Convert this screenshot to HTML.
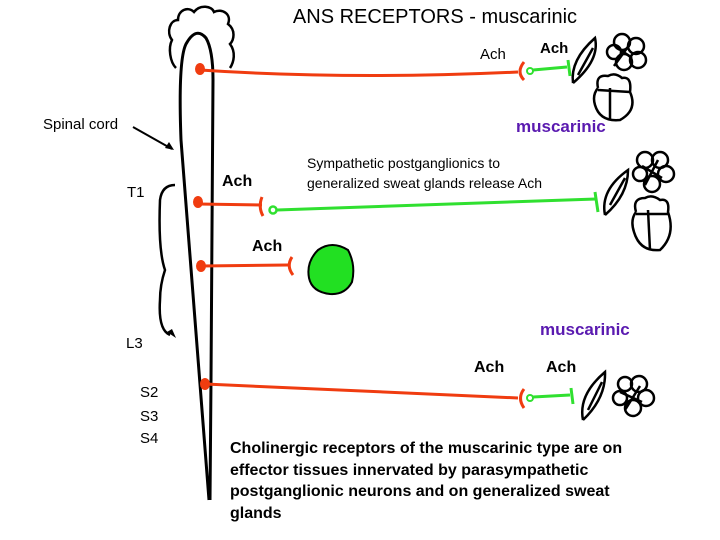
<!DOCTYPE html>
<html><head><meta charset="utf-8"><style>
html,body{margin:0;padding:0;background:#fff;}
svg{display:block;}
text{font-family:"Liberation Sans",Arial,sans-serif;}
</style></head><body>
<svg width="720" height="540" viewBox="0 0 720 540" xmlns="http://www.w3.org/2000/svg">
<rect width="720" height="540" fill="#fff"/>
<text x="435" y="23" font-size="20" text-anchor="middle">ANS RECEPTORS - muscarinic</text>

<path d="M176,68 C170,62 168,48 172,40 C166,32 170,20 178,20 C178,10 188,6 194,12 C200,4 212,6 214,12 C222,8 232,14 228,24 C236,30 234,40 230,44 C236,52 234,62 230,68" fill="none" stroke="#000" stroke-width="2.5"/>
<path d="M209,500 L181,140 Q178,60 186,44 Q196,26 206,38 Q213,50 213,80 L211,380 L210,500" fill="none" stroke="#000" stroke-width="3" stroke-linejoin="round"/>

<text x="43" y="129" font-size="15">Spinal cord</text>
<line x1="133" y1="127" x2="172" y2="149" stroke="#000" stroke-width="2"/>
<polygon points="174,150 165,148 169,142" fill="#000"/>

<path d="M175,185 Q162,185 160,200 Q158,250 165,270 Q160,285 160,300 Q158,330 170,335" fill="none" stroke="#000" stroke-width="2.5"/>
<polygon points="176,338 167,332 172,329" fill="#000"/>

<text x="127" y="197" font-size="15">T1</text>
<text x="126" y="348" font-size="15">L3</text>
<text x="140" y="397" font-size="15">S2</text>
<text x="140" y="421" font-size="15">S3</text>
<text x="140" y="443" font-size="15">S4</text>

<ellipse cx="200" cy="69" rx="5" ry="6" fill="#f03c10"/>
<path d="M200,70 Q350,80 518,72" fill="none" stroke="#f03c10" stroke-width="3"/>
<path d="M524,62 Q516,72 524,80" fill="none" stroke="#f03c10" stroke-width="3"/>
<circle cx="530" cy="71" r="3" fill="none" stroke="#30e030" stroke-width="2"/>
<line x1="533" y1="70" x2="567" y2="67" stroke="#30e030" stroke-width="3"/>
<line x1="568" y1="60" x2="570" y2="76" stroke="#30e030" stroke-width="3"/>
<text x="480" y="59" font-size="15">Ach</text>
<text x="540" y="53" font-size="15" font-weight="bold">Ach</text>

<g fill="none" stroke="#000" stroke-width="2.5">
<path d="M573,83 Q570,60 595,38 Q600,60 573,83 M578,75 L593,48"/>
<circle cx="622" cy="42" r="8"/><circle cx="636" cy="46" r="8"/><circle cx="638" cy="60" r="8"/><circle cx="624" cy="62" r="8"/><circle cx="614" cy="52" r="7"/>
<path d="M618,48 L632,58 M614,66 L630,44"/>
<path d="M598,88 Q595,74 608,76 Q615,72 622,78 Q632,76 630,92 Q638,110 620,120 Q600,122 595,105 Q592,95 598,88 M610,88 L610,120 M598,90 L630,92"/>
<path d="M605,215 Q600,190 628,170 Q628,195 605,215 M610,205 L625,178"/>
<circle cx="645" cy="160" r="8"/><circle cx="660" cy="160" r="8"/><circle cx="666" cy="174" r="8"/><circle cx="652" cy="184" r="8"/><circle cx="640" cy="174" r="7"/>
<path d="M642,166 L662,178 M645,185 L658,160"/>
<path d="M636,212 Q632,198 645,198 Q652,194 660,200 Q670,198 668,212 Q676,235 660,250 Q640,252 634,232 Q630,220 636,212 M648,210 L650,250 M636,214 L668,214"/>
<path d="M583,420 Q578,395 605,372 Q606,398 583,420 M588,410 L602,382"/>
<circle cx="625" cy="384" r="7"/><circle cx="639" cy="384" r="8"/><circle cx="646" cy="398" r="8"/><circle cx="633" cy="408" r="8"/><circle cx="620" cy="398" r="7"/>
<path d="M620,392 L642,402 M625,410 L640,386"/>
</g>

<text x="516" y="132" font-size="17" font-weight="bold" fill="#5a1ab0">muscarinic</text>

<ellipse cx="198" cy="202" rx="5" ry="6" fill="#f03c10"/>
<line x1="198" y1="204" x2="262" y2="205" stroke="#f03c10" stroke-width="3"/>
<path d="M262,197 Q258,207 263,216" fill="none" stroke="#f03c10" stroke-width="3"/>
<circle cx="273" cy="210" r="3.5" fill="none" stroke="#30e030" stroke-width="2.5"/>
<line x1="277" y1="210" x2="596" y2="199" stroke="#30e030" stroke-width="3"/>
<line x1="595" y1="192" x2="598" y2="212" stroke="#30e030" stroke-width="3"/>
<text x="222" y="186" font-size="16" font-weight="bold">Ach</text>
<text x="307" y="168" font-size="14">Sympathetic postganglionics to</text>
<text x="307" y="188" font-size="14">generalized sweat glands release Ach</text>

<ellipse cx="201" cy="266" rx="5" ry="6" fill="#f03c10"/>
<line x1="201" y1="266" x2="288" y2="265" stroke="#f03c10" stroke-width="3"/>
<path d="M292,257 Q286,266 293,275" fill="none" stroke="#f03c10" stroke-width="3"/>
<text x="252" y="251" font-size="16" font-weight="bold">Ach</text>
<path d="M318,250 Q332,240 348,250 Q356,265 352,282 Q345,295 330,294 Q312,292 309,278 Q306,262 318,250 Z" fill="#22e022" stroke="#000" stroke-width="2"/>

<ellipse cx="205" cy="384" rx="5" ry="6" fill="#f03c10"/>
<line x1="205" y1="384" x2="518" y2="398" stroke="#f03c10" stroke-width="3"/>
<path d="M524,389 Q517,398 524,408" fill="none" stroke="#f03c10" stroke-width="3"/>
<circle cx="530" cy="398" r="3" fill="none" stroke="#30e030" stroke-width="2"/>
<line x1="533" y1="397" x2="570" y2="395" stroke="#30e030" stroke-width="3"/>
<line x1="571" y1="388" x2="573" y2="404" stroke="#30e030" stroke-width="3"/>
<text x="474" y="372" font-size="16" font-weight="bold">Ach</text>
<text x="546" y="372" font-size="16" font-weight="bold">Ach</text>
<text x="540" y="335" font-size="17" font-weight="bold" fill="#5a1ab0">muscarinic</text>

<g font-size="16" font-weight="bold">
<text x="230" y="453">Cholinergic receptors of the muscarinic type are on</text>
<text x="230" y="475">effector tissues innervated by parasympathetic</text>
<text x="230" y="496">postganglionic neurons and on generalized sweat</text>
<text x="230" y="518">glands</text>
</g>
</svg>
</body></html>
